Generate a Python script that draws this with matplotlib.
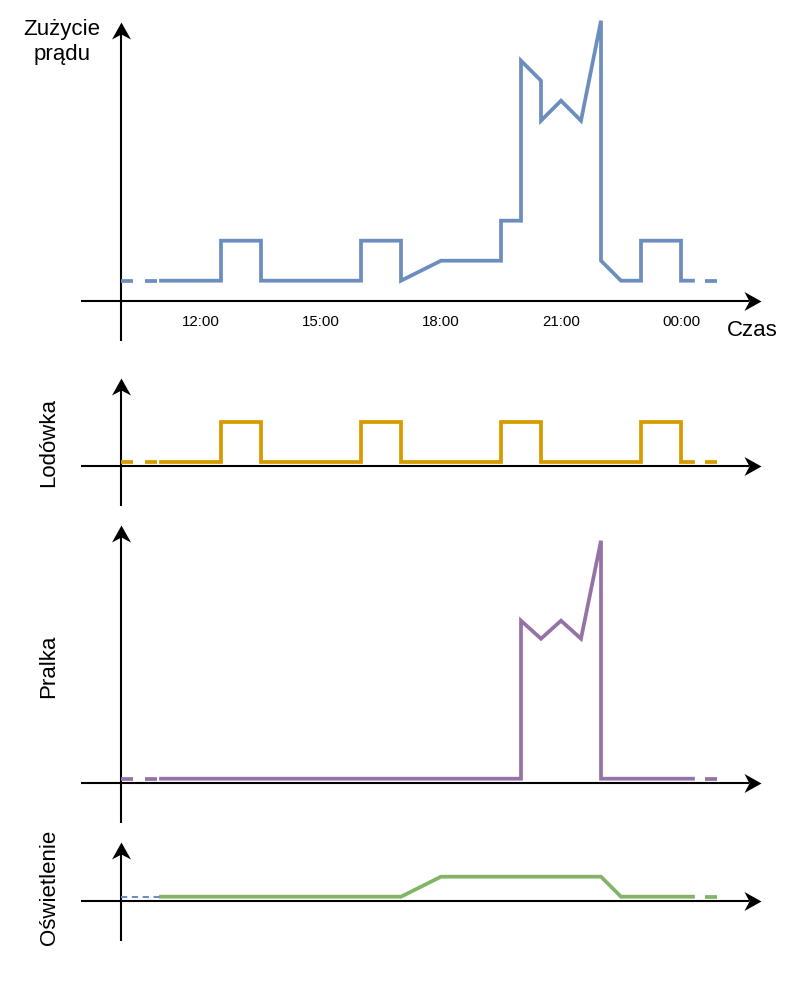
import matplotlib.pyplot as plt
from matplotlib.path import Path

plt.rcParams["font.family"] = ["Liberation Sans", "DejaVu Sans"]

# time in hours (24 = midnight), values in arbitrary units
total_t = [11, 12.5, 12.5, 13.5, 13.5, 16, 16, 17, 17, 18, 19.5, 19.5, 20, 20,
           20.5, 20.5, 21, 21.5, 22, 22, 22.5, 23, 23, 24, 24, 24.3]
total_v = [1, 1, 3, 3, 1, 1, 3, 3, 1, 2, 2, 4, 4, 12,
           11, 9, 10, 9, 14, 2, 1, 1, 3, 3, 1, 1]

fridge_t = [11, 12.5, 12.5, 13.5, 13.5, 16, 16, 17, 17, 19.5, 19.5, 20.5, 20.5,
            23, 23, 24, 24, 24.3]
fridge_v = [0.2, 0.2, 2.2, 2.2, 0.2, 0.2, 2.2, 2.2, 0.2, 0.2, 2.2, 2.2, 0.2,
            0.2, 2.2, 2.2, 0.2, 0.2]

washer_t = [11, 20, 20, 20.5, 21, 21.5, 22, 22, 24.3]
washer_v = [0.2, 0.2, 8.1, 7.2, 8.1, 7.2, 12.1, 0.2, 0.2]

light_t = [11, 17, 18, 22, 22.5, 24.3]
light_v = [0.2, 0.2, 1.2, 1.2, 0.2, 0.2]

tick_hours = [12, 15, 18, 21, 24]
tick_labels = ["12:00", "15:00", "18:00", "21:00", "00:00"]

BLUE = "#6c8ebf"
ORANGE = "#d79b00"
PURPLE = "#9673a6"
GREEN = "#82b366"

W, H, DPI = 802, 982, 100
PX_HOUR = 40   # pixels per hour
PX_UNIT = 20   # pixels per value unit
X_AXIS_PX = 121
LW = 2.7
LW_PX = LW * DPI / 72

# arrow heads (tip at origin)
right_head = Path([(0, 0), (-17, 9.5), (-12, 0), (-17, -9.5), (0, 0)],
                  [Path.MOVETO, Path.LINETO, Path.LINETO, Path.LINETO, Path.CLOSEPOLY])
up_head = Path([(0, 0), (-9.5, -17), (0, -12), (9.5, -17), (0, 0)],
               [Path.MOVETO, Path.LINETO, Path.LINETO, Path.LINETO, Path.CLOSEPOLY])
HEAD_MS = 2 * 17 * 72 / DPI

fig = plt.figure(figsize=(W / DPI, H / DPI), dpi=DPI)

x0 = 10 - X_AXIS_PX / PX_HOUR
x1 = 10 + (W - X_AXIS_PX) / PX_HOUR


def make_panel(top_px, bottom_px, axis_px, y_top):
    ax = fig.add_axes([0, 1 - bottom_px / H, 1, (bottom_px - top_px) / H])
    ax.set_xlim(x0, x1)
    ax.set_ylim((axis_px - bottom_px) / PX_UNIT, (axis_px - top_px) / PX_UNIT)
    ax.axis("off")
    # axes drawn as arrows
    ax.plot([9, 25.7], [0, 0], color="black", lw=1.5, solid_capstyle="butt")
    ax.plot([26], [0], marker=right_head, ms=HEAD_MS, color="black", mew=0)
    ax.plot([10, 10], [-2, y_top - 0.6], color="black", lw=1.5, solid_capstyle="butt")
    ax.plot([10], [y_top], marker=up_head, ms=HEAD_MS, color="black", mew=0)
    return ax


def draw_series(ax, t, v, color, lead_color=None, lead_thin=False):
    ax.plot(t, v, color=color, lw=LW, solid_joinstyle="miter", zorder=3)
    d = 12 / LW_PX
    # dashed lead-in from 10:00
    if lead_thin:
        ax.plot([10, t[0]], [v[0], v[0]], color=lead_color, lw=1.5,
                dashes=(3, 2.2), dash_capstyle="butt", zorder=3)
    else:
        ax.plot([10, t[0] - 0.1], [v[0], v[0]], color=color, lw=LW,
                dashes=(d, d), dash_capstyle="butt", zorder=3)
    # dashed tail
    ax.plot([t[-1], t[-1] + 0.6], [v[-1], v[-1]], color=color, lw=LW,
            linestyle=(d, (d, d)), dash_capstyle="butt", zorder=3)


# total consumption
ax = make_panel(0, 350, 300.7, 13.95)
draw_series(ax, total_t, total_v, BLUE)
for h, lab in zip(tick_hours, tick_labels):
    ax.text(h, (300.7 - 322) / PX_UNIT, lab, ha="center", va="center", fontsize=10.8)
ax.text(25.78, (300.7 - 330) / PX_UNIT, "Czas", ha="center", va="center", fontsize=16)
ax.text(8.53, (300.7 - 42) / PX_UNIT, "Zużycie\nprądu", ha="center", va="center",
        fontsize=16, linespacing=1.3)

# fridge
ax = make_panel(360, 520, 466.5, 4.4)
draw_series(ax, fridge_t, fridge_v, ORANGE)
ax.text(8.2, (466.5 - 443) / PX_UNIT, "Lodówka", rotation=90, ha="center",
        va="center", fontsize=16)

# washing machine
ax = make_panel(510, 830, 782.7, 12.9)
draw_series(ax, washer_t, washer_v, PURPLE)
ax.text(8.2, (782.7 - 666) / PX_UNIT, "Pralka", rotation=90, ha="center",
        va="center", fontsize=16)

# lighting
ax = make_panel(830, 960, 900.7, 2.93)
draw_series(ax, light_t, light_v, GREEN, lead_color=BLUE, lead_thin=True)
ax.text(8.2, (900.7 - 887) / PX_UNIT, "Oświetlenie", rotation=90, ha="center",
        va="center", fontsize=16)

fig.savefig("out.png", dpi=DPI)
plt.close(fig)
